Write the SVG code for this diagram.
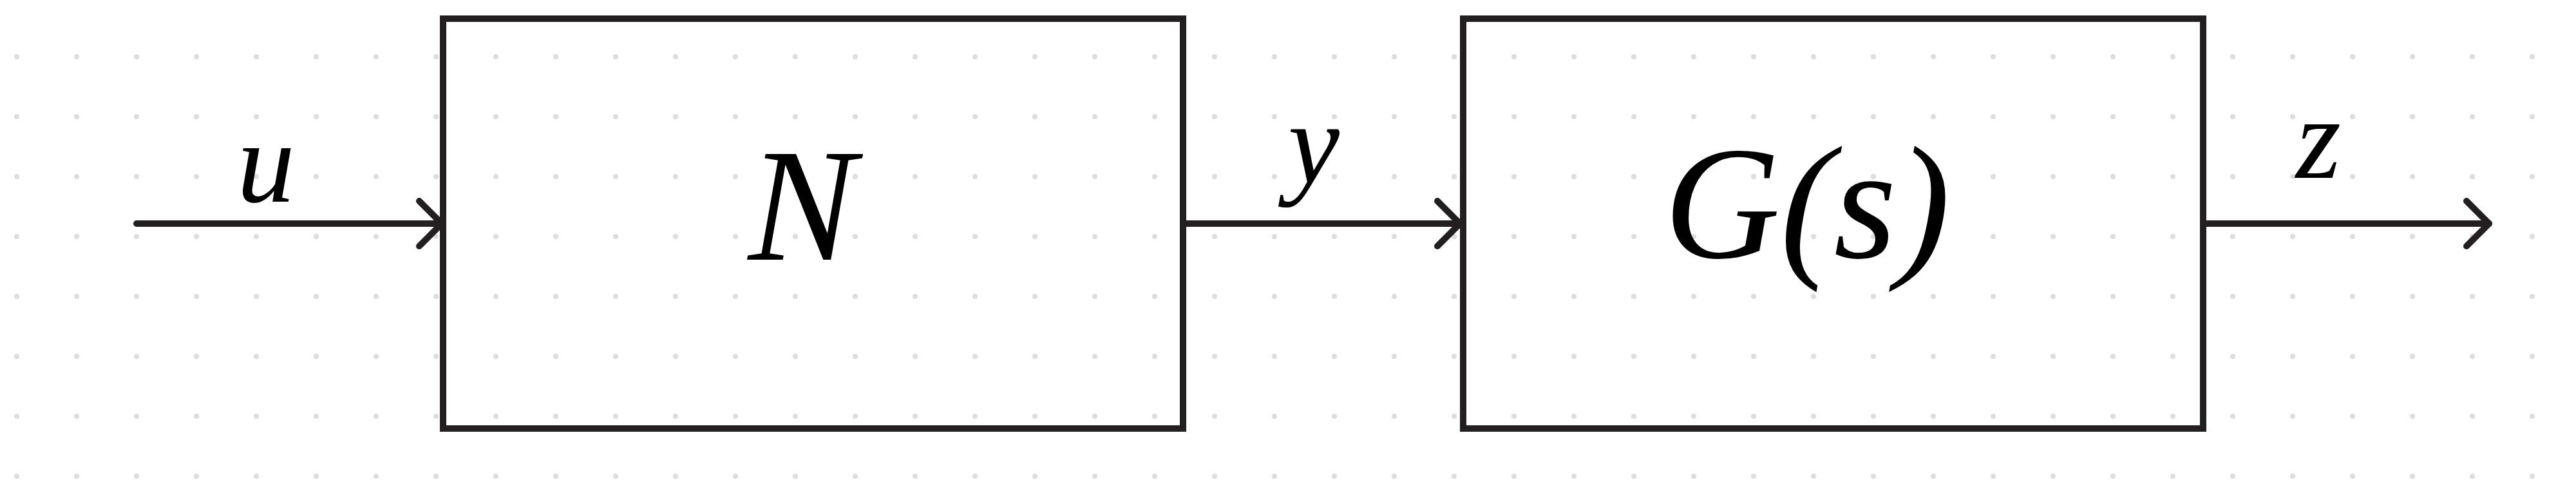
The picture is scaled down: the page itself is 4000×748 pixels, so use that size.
<svg xmlns="http://www.w3.org/2000/svg" width="4000" height="748" viewBox="0 0 4000 748">
<defs>
<pattern id="dots" x="-20" y="42" width="93" height="93" patternUnits="userSpaceOnUse"><circle cx="46" cy="46" r="4" fill="#dddddd"/></pattern>
<marker id="arr" viewBox="-40 -40 50 80" markerWidth="50" markerHeight="80" refX="0" refY="0" markerUnits="userSpaceOnUse" orient="auto"><path d="M-35,-35 L0,0 L-35,35" fill="none" stroke="#231f20" stroke-width="10" stroke-linecap="round" stroke-linejoin="round"/></marker>
</defs>
<style>
.box{fill:none;stroke:#231f20;stroke-width:10}
.wire{stroke:#231f20;stroke-width:10;stroke-linecap:round;fill:none}
.lbl{font-family:"Liberation Serif",serif;font-style:italic;fill:#000;text-anchor:middle}
</style>
<rect width="4000" height="748" fill="#fff"/>
<rect width="4000" height="748" fill="url(#dots)"/>
<g id="connectors">
<line class="wire" x1="212" y1="347" x2="686" y2="347" marker-end="url(#arr)"/>
<line class="wire" x1="1842" y1="347" x2="2267" y2="347" marker-end="url(#arr)"/>
<line class="wire" x1="3426" y1="347" x2="3865" y2="347" marker-end="url(#arr)"/>
<text class="lbl" x="413" y="313" font-size="180">u</text>
<text class="lbl" x="2040" y="283" font-size="180">y</text>
<text class="lbl" x="3600" y="276" font-size="180">z</text>
</g>
<g id="N"><rect class="box" x="688" y="29" width="1149" height="636"/><text class="lbl" x="1245" y="403" font-size="250">N</text></g>
<g id="G"><rect class="box" x="2272" y="29" width="1149" height="636"/><text class="lbl" x="2806" y="400" font-size="250">G(s)</text></g>
</svg>
